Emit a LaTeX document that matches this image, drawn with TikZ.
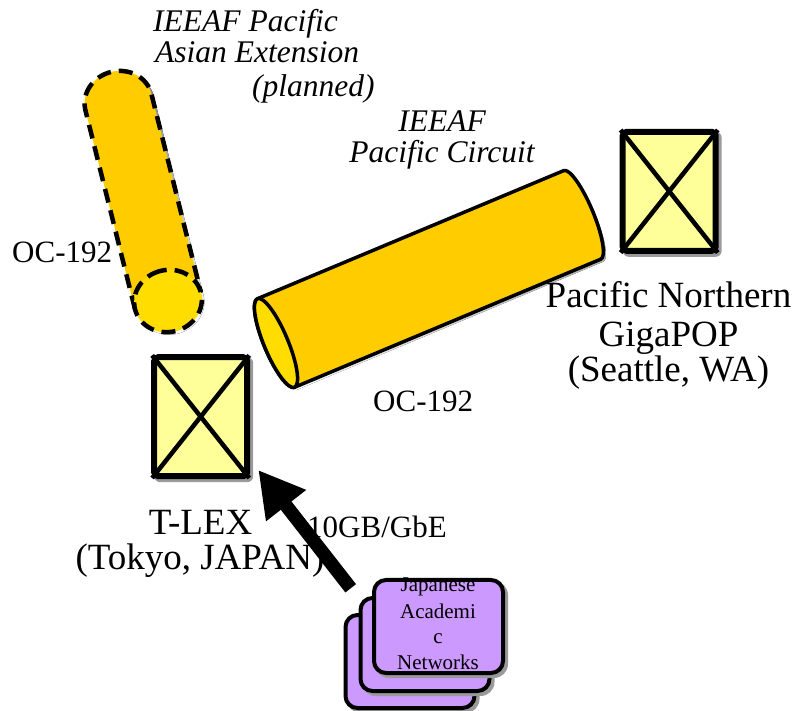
\documentclass[tikz,border=0pt]{standalone}
\usepackage{fontspec}
\setmainfont{Liberation Serif}
\usetikzlibrary{arrows.meta}
\definecolor{canbody}{HTML}{FFCC00}
\definecolor{cancap}{HTML}{FFDD00}
\definecolor{boxfill}{HTML}{FFFF99}
\definecolor{netfill}{HTML}{CC99FF}
\definecolor{shade}{HTML}{9A9A9A}
\begin{document}
\begin{tikzpicture}[x=1pt,y=1pt,
  router/.style={draw=black, line width=6pt, fill=boxfill, rounded corners=4pt,
    minimum width=93pt, minimum height=119pt, inner sep=0pt},
  routershadow/.style={fill=shade, rounded corners=6pt,
    minimum width=99pt, minimum height=125pt, inner sep=0pt},
  cross/.style={line width=4.5pt, shorten >=1.5pt, shorten <=1.5pt},
  netbox/.style={draw=black, line width=4pt, fill=netfill, rounded corners=12pt,
    minimum width=129pt, minimum height=93pt, inner sep=0pt},
  netshadow/.style={fill=shade, rounded corners=14pt,
    minimum width=133pt, minimum height=97pt, inner sep=0pt},
  lbl/.style={inner sep=0pt, font=\fontsize{31}{33}\selectfont},
  ital/.style={inner sep=0pt, font=\fontsize{31.5}{33}\selectfont\itshape},
  big/.style={inner sep=0pt, font=\fontsize{37}{39}\selectfont},
  small/.style={inner sep=0pt, font=\fontsize{21}{23}\selectfont},
  planned/.style={line width=4.5pt, dash pattern=on 14pt off 8pt},
  canline/.style={draw=black, line width=3.5pt, line join=round},
]
\useasboundingbox (0,0) rectangle (798,710);

% ---------- planned (dashed) cylinder ----------
\begin{scope}[shift={(170.5,406.5)}, rotate=104]
  \fill[shade] (0,34) -- (205,34) arc[start angle=90, end angle=-90, x radius=31, y radius=34]
    -- (0,-34) arc[start angle=270, end angle=90, x radius=31, y radius=34] -- cycle;
\end{scope}
\begin{scope}[shift={(168,409)}, rotate=104]
  \fill[canbody] (0,34) -- (205,34) arc[start angle=90, end angle=-90, x radius=31, y radius=34]
    -- (0,-34) arc[start angle=270, end angle=90, x radius=31, y radius=34] -- cycle;
  \draw[planned] (0,34) -- (205,34) arc[start angle=90, end angle=-90, x radius=31, y radius=34]
    -- (0,-34);
  \fill[cancap] (0,0) ellipse [x radius=31, y radius=34];
  \draw[planned] (0,0) ellipse [x radius=31, y radius=34];
\end{scope}

% ---------- IEEAF Pacific Circuit cylinder ----------
\begin{scope}[shift={(278.5,364.5)}, rotate=22.7]
  \fill[shade] (0,48) -- (332,48) arc[start angle=90, end angle=-90, x radius=11, y radius=48]
    -- (0,-48) arc[start angle=270, end angle=90, x radius=12, y radius=48] -- cycle;
\end{scope}
\begin{scope}[shift={(276,367)}, rotate=22.7]
  \filldraw[fill=canbody, canline]
    (0,48) -- (332,48) arc[start angle=90, end angle=-90, x radius=11, y radius=48]
    -- (0,-48) arc[start angle=270, end angle=90, x radius=12, y radius=48] -- cycle;
  \filldraw[fill=cancap, canline] (0,0) ellipse [x radius=12, y radius=48];
\end{scope}

% ---------- routers ----------
\node[routershadow] (seashadow) at (672.2,515.7) {};
\node[router] (sea) at (669.2,518.7) {};
\draw[cross] (sea.north west) -- (sea.south east);
\draw[cross] (sea.north east) -- (sea.south west);

\node[routershadow] (tlexshadow) at (203.7,290.3) {};
\node[router] (tlex) at (200.7,293.3) {};
\draw[cross] (tlex.north west) -- (tlex.south east);
\draw[cross] (tlex.north east) -- (tlex.south west);

% ---------- labels ----------
\node[ital, anchor=base west] (ext1) at (153,678) {IEEAF Pacific};
\node[ital, anchor=base west] (ext2) at (155,647) {Asian Extension};
\node[ital, anchor=base west] (ext3) at (252,613) {(planned)};

\node[ital, anchor=base] (circ1) at (442,578) {IEEAF};
\node[ital, anchor=base] (circ2) at (442,547) {Pacific Circuit};

\node[lbl, anchor=base west] (oc1) at (12,447) {OC-192};
\node[lbl, anchor=base west] (oc2) at (373,298) {OC-192};

\node[big, anchor=base] (pnw1) at (668.5,402) {Pacific Northern};
\node[big, anchor=base] (pnw2) at (668.5,363) {GigaPOP};
\node[big, anchor=base] (pnw3) at (668.5,328) {(Seattle, WA)};

\node[big, anchor=base] (tl1) at (200.5,175) {T-LEX};
\node[big, anchor=base] (tl2) at (200,140) {(Tokyo, JAPAN)};

\node[lbl, anchor=base west] (rate) at (307,172) {10GB/GbE};

% ---------- Japanese academic networks stack ----------
\node[netshadow] (backshadow) at (413,45.5) {};
\node[netbox] (back) at (410,48.5) {};
\node[netshadow] (midshadow) at (428,62.5) {};
\node[netbox] (mid) at (425,65.5) {};
\node[netshadow] (frontshadow) at (441.5,80.5) {};
\node[netbox] (front) at (438.5,83.5) {};
\node[small, anchor=base] (jan1) at (438,118) {Japanese};
\node[small, anchor=base] (jan2) at (438,92) {Academi};
\node[small, anchor=base] (jan3) at (438,67) {c};
\node[small, anchor=base] (jan4) at (438,41) {Networks};

% ---------- arrow ----------
\coordinate (arrtail) at (350.7,121.7);
\coordinate (arrtip) at (258.3,240);
\draw[line width=13.5pt, -{Triangle[width=47.6pt, length=45.2pt]}] (arrtail) -- (arrtip);
\end{tikzpicture}
\end{document}
